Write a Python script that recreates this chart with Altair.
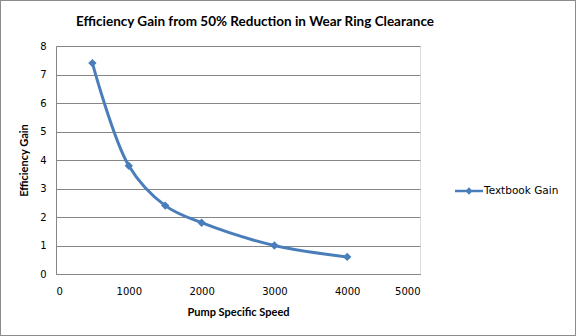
import altair as alt
import pandas as pd

speed = [500, 1000, 1500, 2000, 3000, 4000]
gain = [7.4, 3.8, 2.4, 1.8, 1.0, 0.6]
series = ["Textbook Gain"] * len(speed)

df = pd.DataFrame({"speed": speed, "gain": gain, "series": series})

BLUE = "#4A7EBB"
GRID = "#868686"

legend_path = "M-1,-0.09H1V0.09H-1Z M0,-0.26L0.26,0L0,0.26L-0.26,0Z"

base = alt.Chart(df).encode(
    x=alt.X("speed:Q", scale=alt.Scale(domain=[0, 5000], nice=False),
            axis=alt.Axis(title="Pump Specific Speed", values=[0, 1000, 2000, 3000, 4000, 5000],
                          format="d", grid=False, ticks=False, labelPadding=12, titlePadding=10,
                          domainColor=GRID, labelFont="DejaVu Sans", labelFontSize=10,
                          labelColor="#000", titleFont="Lato", titleFontSize=11,
                          titleFontWeight="bold", titleColor="#000")),
    y=alt.Y("gain:Q", scale=alt.Scale(domain=[0, 8], nice=False),
            axis=alt.Axis(title="Efficiency Gain", values=list(range(9)), grid=True,
                          gridColor=GRID, gridWidth=1, ticks=False, labelPadding=10,
                          titlePadding=10, domainColor=GRID, labelFont="DejaVu Sans",
                          labelFontSize=10, labelColor="#000", titleFont="Lato",
                          titleFontSize=11, titleFontWeight="bold", titleColor="#000")),
)

line = base.mark_line(interpolate="catmull-rom", strokeWidth=3).encode(
    color=alt.Color("series:N", scale=alt.Scale(range=[BLUE]),
                    legend=alt.Legend(title=None, orient="none", legendX=399, legendY=131,
                                      symbolType=legend_path, symbolSize=784,
                                      symbolStrokeWidth=0, symbolFillColor=BLUE,
                                      labelFont="DejaVu Sans", labelFontSize=10.5,
                                      labelColor="#000", labelOffset=1))
)
points = base.mark_point(shape="diamond", filled=True, size=70, opacity=1, color=BLUE)

border = alt.Chart(df).mark_rect(fill=None, stroke="#8c8c8c", strokeWidth=1, clip=False).encode(
    x=alt.value(-55.5), x2=alt.value(519.5), y=alt.value(-45.5), y2=alt.value(289.5)
)

chart = alt.layer(line, points, border).properties(
    width=364, height=228,
    title=alt.TitleParams("Efficiency Gain from 50% Reduction in Wear Ring Clearance",
                          font="Lato", fontSize=13.5, fontWeight="bold", color="#000",
                          anchor="middle", frame="group", dx=17, offset=0, dy=28),
    autosize=alt.AutoSizeParams(type="none"),
    padding={"left": 56, "top": 46, "right": 156, "bottom": 62},
).configure_view(stroke=None).configure(background="white")

chart.save("out.html", embed_options={"renderer": "svg", "actions": False})
